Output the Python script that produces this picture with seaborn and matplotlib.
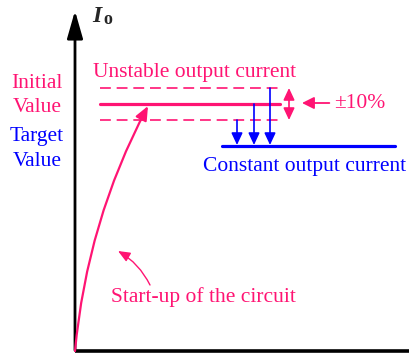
import matplotlib
matplotlib.use("Agg")
import matplotlib.pyplot as plt
import seaborn as sns

# levels of the output current (units: px above the time axis)
initial_level = 247
band_half = 16            # drawn half width of the +-10% band
target_level = 205
band_levels = [initial_level - band_half, initial_level, initial_level + band_half]

# horizontal extents (time units: px right of the current axis)
initial_span = [25, 205]
dashed_span = [25, 208]
target_span = [147, 320]
settle_times = [162, 179, 195]   # blue arrows, one per band level
band_arrow_t = 214
axis_top = 343
axis_right = 335

pink = "#FF1473"
blue = "#0000FF"

sns.set_theme(style="white")
plt.rcParams["font.family"] = ["Liberation Serif", "DejaVu Serif"]

fig = plt.figure(figsize=(4.10, 3.58), dpi=100)
ax = fig.add_axes([0, 0, 1, 1])
ax.set_xlim(-75, 335)
ax.set_ylim(-7, 351)
ax.axis("off")

# axes
ax.plot([0, axis_right], [0, 0], color="black", lw=2.6, solid_capstyle="butt")
ax.annotate("", xy=(0, axis_top), xytext=(0, -2),
            arrowprops=dict(arrowstyle="-|>,head_length=1.4,head_width=0.4",
                            color="black", lw=2.0, mutation_scale=12))
ax.text(17, 334, "I", fontsize=17, fontweight="bold", fontstyle="italic",
        ha="left", va="center")
ax.text(28, 331, "o", fontsize=13, fontweight="bold", ha="left", va="center")

# initial value and the +-10% band
sns.lineplot(x=initial_span, y=[initial_level] * 2, color=pink, lw=2.3, ax=ax)
for lv in [band_levels[0], band_levels[2]]:
    sns.lineplot(x=dashed_span, y=[lv] * 2, color=pink, lw=1.2,
                 linestyle=(0, (6.5, 3.5)), ax=ax)
ax.annotate("", xy=(band_arrow_t, band_levels[2]), xytext=(band_arrow_t, band_levels[0]),
            arrowprops=dict(arrowstyle="<|-|>,head_length=0.6,head_width=0.28",
                            color=pink, lw=1.2, mutation_scale=12, shrinkA=0, shrinkB=0))
ax.annotate("±10%", xy=(227, 248), xytext=(259, 248), fontsize=15.5, color=pink,
            ha="left", va="center",
            arrowprops=dict(arrowstyle="-|>,head_length=0.6,head_width=0.3",
                            color=pink, lw=1.3, mutation_scale=12, shrinkA=1, shrinkB=0))

# target value
sns.lineplot(x=target_span, y=[target_level] * 2, color=blue, lw=2.3, ax=ax)
for t, lv in zip(settle_times, band_levels):
    ax.annotate("", xy=(t, target_level + 1), xytext=(t, lv),
                arrowprops=dict(arrowstyle="-|>,head_length=0.6,head_width=0.28",
                                color=blue, lw=1.2, mutation_scale=12,
                                shrinkA=0, shrinkB=0))

# start-up curve
ax.annotate("", xy=(73, initial_level - 2), xytext=(0, 0),
            arrowprops=dict(arrowstyle="-|>,head_length=0.7,head_width=0.3",
                            color=pink, lw=1.6, mutation_scale=12,
                            connectionstyle="arc3,rad=-0.1", shrinkA=0, shrinkB=0))
ax.annotate("", xy=(43, 100), xytext=(75, 66),
            arrowprops=dict(arrowstyle="-|>,head_length=0.6,head_width=0.25",
                            color=pink, lw=1.0, mutation_scale=12,
                            connectionstyle="arc3,rad=0.15", shrinkA=0, shrinkB=0))

# labels
ax.text(120, 279, "Unstable output current", fontsize=15.5, color=pink,
        ha="center", va="center")
ax.text(230, 184, "Constant output current", fontsize=15.5, color=blue,
        ha="center", va="center")
ax.text(128, 54, "Start-up of the circuit", fontsize=15.5, color=pink,
        ha="center", va="center")
ax.text(-38, 268, "Initial", fontsize=15.5, color=pink, ha="center", va="center")
ax.text(-38, 243, "Value", fontsize=15.5, color=pink, ha="center", va="center")
ax.text(-38, 214, "Target", fontsize=15.5, color=blue, ha="center", va="center")
ax.text(-38, 189, "Value", fontsize=15.5, color=blue, ha="center", va="center")

fig.savefig("out.png", dpi=100)
